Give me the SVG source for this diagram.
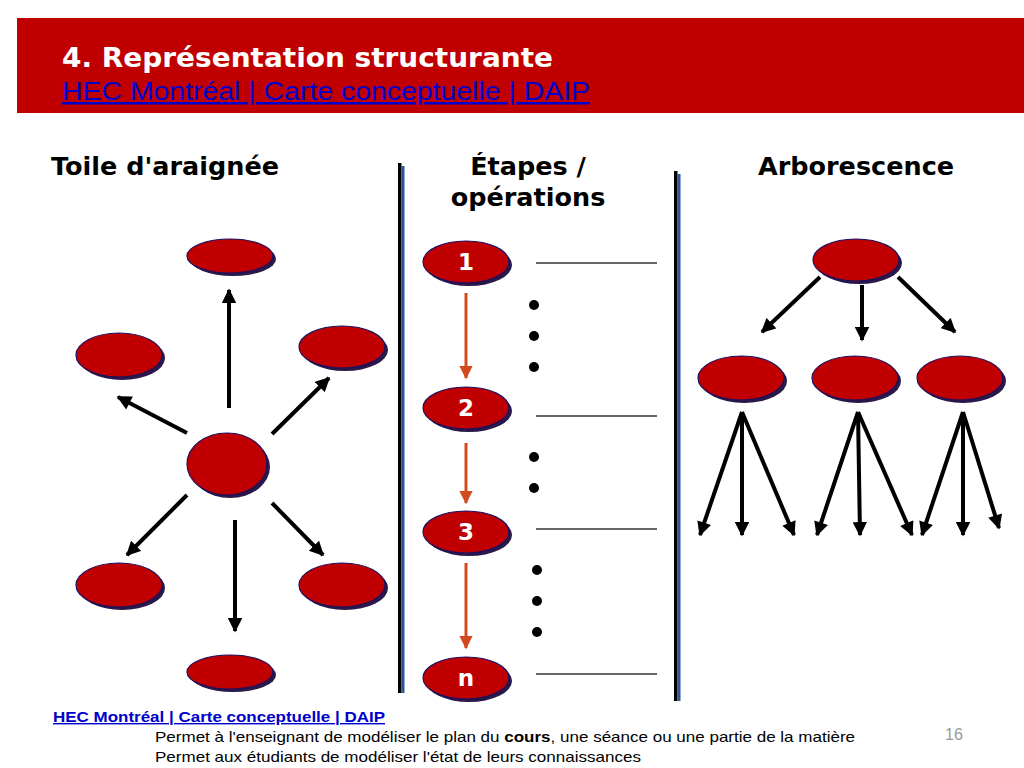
<svg xmlns="http://www.w3.org/2000/svg" width="1024" height="768" viewBox="0 0 1024 768">
<defs>
<style>
.node{fill:#C00000;stroke:#1E1060;stroke-width:1.2}
.shadow{fill:#2A1848}
.conn{stroke:#000;stroke-width:4;fill:none}
.step{stroke:#D24A1E;stroke-width:3;fill:none}
.head{font-family:"DejaVu Sans",Verdana,sans-serif;font-weight:bold;font-size:25.5px;fill:#000;text-anchor:middle}
.num{font-family:"DejaVu Sans",Verdana,sans-serif;font-weight:bold;font-size:23px;fill:#fff;text-anchor:middle}
.hline{stroke:#333;stroke-width:1.5}
.dot{fill:#000}
.body{font-family:"Liberation Sans",Arial,sans-serif;font-size:15px;fill:#000}
</style>
<marker id="ah" viewBox="0 0 10 10" refX="9" refY="5" markerWidth="3.8" markerHeight="3.6" orient="auto" markerUnits="strokeWidth">
<path d="M0,0 L10,5 L0,10 z" fill="#000"/>
</marker>
<marker id="ahr" viewBox="0 0 10 10" refX="9" refY="5" markerWidth="4.6" markerHeight="4.4" orient="auto" markerUnits="strokeWidth">
<path d="M0,0 L10,5 L0,10 z" fill="#D24A1E"/>
</marker>
</defs>
<rect width="1024" height="768" fill="#fff"/>

<g id="header">
<rect x="17" y="18" width="1007" height="95" fill="#C00000"/>
<text x="62" y="67" font-family="'DejaVu Sans',Verdana,sans-serif" font-weight="bold" font-size="26" fill="#fff" textLength="491" lengthAdjust="spacingAndGlyphs">4. Représentation structurante</text>
<text x="62" y="100" font-family="'Liberation Sans',Arial,sans-serif" font-size="25" fill="#0000CC" text-decoration="underline" textLength="528" lengthAdjust="spacingAndGlyphs">HEC Montréal | Carte conceptuelle | DAIP</text>
</g>

<g id="headings">
<text class="head" x="165" y="175">Toile d'araignée</text>
<text class="head" x="528" y="175">Étapes /</text>
<text class="head" x="528" y="206">opérations</text>
<text class="head" x="856" y="175">Arborescence</text>
</g>

<g id="separators">
<rect x="398" y="163" width="3.5" height="530" fill="#000"/>
<rect x="401.5" y="166" width="3" height="527" fill="#2F5597"/>
<rect x="674" y="171" width="3.5" height="530" fill="#000"/>
<rect x="677.5" y="174" width="3" height="527" fill="#2F5597"/>
</g>

<g id="connectors">
<line class="conn" x1="229" y1="408" x2="229" y2="290" marker-end="url(#ah)"/>
<line class="conn" x1="187" y1="433" x2="118" y2="397" marker-end="url(#ah)"/>
<line class="conn" x1="272" y1="434" x2="329" y2="378" marker-end="url(#ah)"/>
<line class="conn" x1="187" y1="495" x2="127" y2="555" marker-end="url(#ah)"/>
<line class="conn" x1="235" y1="520" x2="235" y2="631" marker-end="url(#ah)"/>
<line class="conn" x1="272" y1="503" x2="323" y2="555" marker-end="url(#ah)"/>
<line class="step" x1="466" y1="293" x2="466" y2="378" marker-end="url(#ahr)"/>
<line class="step" x1="466" y1="443" x2="466" y2="503" marker-end="url(#ahr)"/>
<line class="step" x1="466" y1="563" x2="466" y2="648" marker-end="url(#ahr)"/>
<line class="conn" x1="820" y1="277" x2="762" y2="332" marker-end="url(#ah)"/>
<line class="conn" x1="862" y1="285" x2="862" y2="340" marker-end="url(#ah)"/>
<line class="conn" x1="898" y1="277" x2="955" y2="332" marker-end="url(#ah)"/>
<line class="conn" x1="742" y1="412" x2="700" y2="535" marker-end="url(#ah)"/>
<line class="conn" x1="742" y1="412" x2="742" y2="535" marker-end="url(#ah)"/>
<line class="conn" x1="742" y1="412" x2="794" y2="535" marker-end="url(#ah)"/>
<line class="conn" x1="858" y1="412" x2="817" y2="535" marker-end="url(#ah)"/>
<line class="conn" x1="858" y1="412" x2="860" y2="535" marker-end="url(#ah)"/>
<line class="conn" x1="858" y1="412" x2="912" y2="535" marker-end="url(#ah)"/>
<line class="conn" x1="963" y1="412" x2="922" y2="535" marker-end="url(#ah)"/>
<line class="conn" x1="963" y1="412" x2="963" y2="535" marker-end="url(#ah)"/>
<line class="conn" x1="963" y1="412" x2="999" y2="528" marker-end="url(#ah)"/>
</g>

<g id="web-top"><ellipse class="shadow" cx="233" cy="259" rx="43" ry="17"/><ellipse class="node" cx="230" cy="256" rx="43" ry="17"/></g>
<g id="web-left"><ellipse class="shadow" cx="122" cy="358" rx="43" ry="22"/><ellipse class="node" cx="119" cy="355" rx="43" ry="22"/></g>
<g id="web-right"><ellipse class="shadow" cx="345" cy="350" rx="43" ry="21"/><ellipse class="node" cx="342" cy="347" rx="43" ry="21"/></g>
<g id="web-center"><ellipse class="shadow" cx="230" cy="467" rx="40" ry="31"/><ellipse class="node" cx="227" cy="464" rx="40" ry="31"/></g>
<g id="web-bottom-left"><ellipse class="shadow" cx="122" cy="588" rx="43" ry="22"/><ellipse class="node" cx="119" cy="585" rx="43" ry="22"/></g>
<g id="web-bottom-right"><ellipse class="shadow" cx="345" cy="588" rx="43" ry="22"/><ellipse class="node" cx="342" cy="585" rx="43" ry="22"/></g>
<g id="web-bottom"><ellipse class="shadow" cx="233" cy="675" rx="43" ry="17"/><ellipse class="node" cx="230" cy="672" rx="43" ry="17"/></g>

<g id="step-1"><ellipse class="shadow" cx="469" cy="265" rx="43" ry="21"/><ellipse class="node" cx="466" cy="262" rx="43" ry="21"/><text class="num" x="466" y="270">1</text></g>
<g id="step-2"><ellipse class="shadow" cx="469" cy="411" rx="43" ry="21"/><ellipse class="node" cx="466" cy="408" rx="43" ry="21"/><text class="num" x="466" y="416">2</text></g>
<g id="step-3"><ellipse class="shadow" cx="469" cy="535" rx="43" ry="21"/><ellipse class="node" cx="466" cy="532" rx="43" ry="21"/><text class="num" x="466" y="540">3</text></g>
<g id="step-n"><ellipse class="shadow" cx="469" cy="681" rx="43" ry="21"/><ellipse class="node" cx="466" cy="678" rx="43" ry="21"/><text class="num" x="466" y="686">n</text></g>

<g id="step-lines">
<line class="hline" x1="536" y1="263" x2="657" y2="263"/>
<line class="hline" x1="536" y1="416" x2="657" y2="416"/>
<line class="hline" x1="536" y1="529" x2="657" y2="529"/>
<line class="hline" x1="536" y1="674" x2="657" y2="674"/>
</g>
<g id="step-dots">
<circle class="dot" cx="534" cy="305" r="5"/>
<circle class="dot" cx="534" cy="336" r="5"/>
<circle class="dot" cx="534" cy="367" r="5"/>
<circle class="dot" cx="534" cy="457" r="5"/>
<circle class="dot" cx="534" cy="488" r="5"/>
<circle class="dot" cx="537" cy="570" r="5"/>
<circle class="dot" cx="537" cy="601" r="5"/>
<circle class="dot" cx="537" cy="632" r="5"/>
</g>

<g id="tree-root"><ellipse class="shadow" cx="859" cy="263" rx="43" ry="21"/><ellipse class="node" cx="856" cy="260" rx="43" ry="21"/></g>
<g id="tree-a"><ellipse class="shadow" cx="744" cy="381" rx="43" ry="22"/><ellipse class="node" cx="741" cy="378" rx="43" ry="22"/></g>
<g id="tree-b"><ellipse class="shadow" cx="858" cy="381" rx="43" ry="22"/><ellipse class="node" cx="855" cy="378" rx="43" ry="22"/></g>
<g id="tree-c"><ellipse class="shadow" cx="963" cy="381" rx="43" ry="22"/><ellipse class="node" cx="960" cy="378" rx="43" ry="22"/></g>

<g id="footer">
<text x="53" y="722" font-family="'Liberation Sans',Arial,sans-serif" font-weight="bold" font-size="14" fill="#0000CC" text-decoration="underline" textLength="332" lengthAdjust="spacingAndGlyphs">HEC Montréal | Carte conceptuelle | DAIP</text>
<text class="body" x="155" y="742" textLength="700" lengthAdjust="spacingAndGlyphs">Permet à l'enseignant de modéliser le plan du <tspan font-weight="bold">cours</tspan>, une séance ou une partie de la matière</text>
<text class="body" x="155" y="762" textLength="486" lengthAdjust="spacingAndGlyphs">Permet aux étudiants de modéliser l'état de leurs connaissances</text>
<text x="945" y="740" font-family="'Liberation Sans',Arial,sans-serif" font-size="16" fill="#999">16</text>
</g>
</svg>
